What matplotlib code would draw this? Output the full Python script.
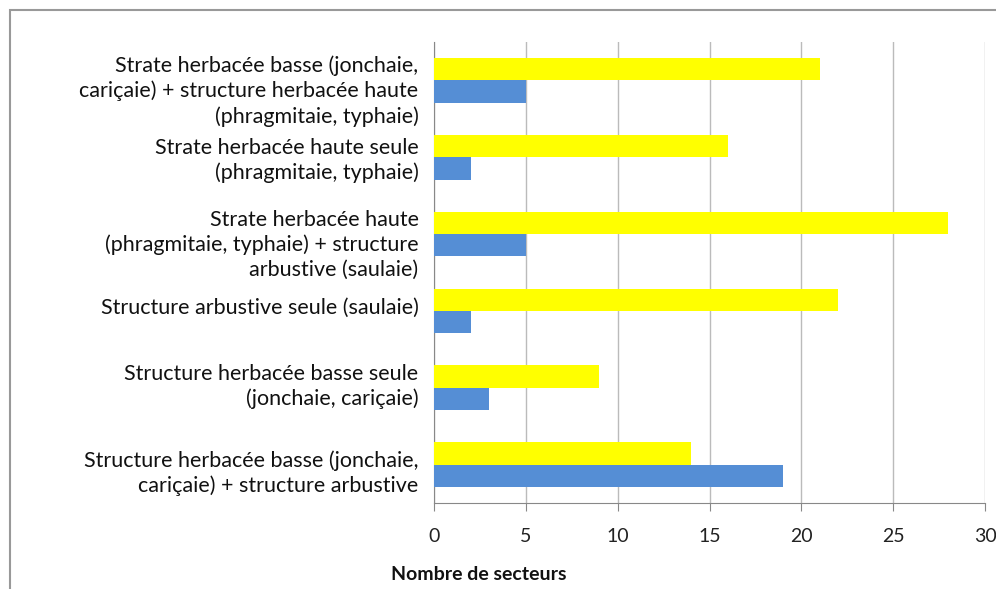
import numpy as np
import matplotlib.pyplot as plt
from matplotlib.patches import Rectangle

# Categories, top to bottom
categories = [
    "Strate herbacée basse (jonchaie,\ncariçaie) + structure herbacée haute\n(phragmitaie, typhaie)",
    "Strate herbacée haute seule\n(phragmitaie, typhaie)",
    "Strate herbacée haute\n(phragmitaie, typhaie) + structure\narbustive (saulaie)",
    "Structure arbustive seule (saulaie)",
    "Structure herbacée basse seule\n(jonchaie, cariçaie)",
    "Structure herbacée basse (jonchaie,\ncariçaie) + structure arbustive",
]
yellow_vals = [21, 16, 28, 22, 9, 14]
blue_vals = [5, 2, 5, 2, 3, 19]
xticks = [0, 5, 10, 15, 20, 25, 30]

plt.rcParams['font.family'] = ['Lato', 'DejaVu Sans']

fig = plt.figure(figsize=(9.96, 5.89), dpi=100)
ax = fig.add_axes([434 / 996, 1 - 503 / 589, (985 - 434) / 996, (503 - 42) / 589])

y = np.arange(len(categories))
h = 0.29
ax.barh(y - h / 2, yellow_vals, height=h, color='#FFFF00', zorder=3)
ax.barh(y + h / 2, blue_vals, height=h, color='#558ED5', zorder=3)

ax.set_ylim(len(categories) - 0.5, -0.5)
ax.set_xlim(0, 30)
ax.set_xticks(xticks)
ax.set_xticklabels([str(t) for t in xticks], fontsize=14, color='#222222')
ax.set_yticks(y)
ax.set_yticklabels([])
ax.tick_params(axis='y', length=0)
ax.tick_params(axis='x', length=6, color='#888888', direction='out', pad=12)
ax.grid(axis='x', color='#BBBBBB', linewidth=1, zorder=0)

# category labels, slightly shifted like the original layout
label_shift = [0.14, 0.04, 0.14, -0.04, -0.02, 0.11]
for yi, lab, dy in zip(y, categories, label_shift):
    ax.text(-0.028, yi + dy, lab, transform=ax.get_yaxis_transform(),
            ha='right', va='center', multialignment='right',
            fontsize=15.5, color='#111111', linespacing=1.28)

for side in ['top', 'right']:
    ax.spines[side].set_visible(False)
for side in ['left', 'bottom']:
    ax.spines[side].set_color('#888888')

fig.text(479 / 996, 1 - 575 / 589, "Nombre de secteurs", ha='center', va='center',
         fontsize=14, fontweight='bold', color='#111111')

# outer frame
fig.patches.append(Rectangle((10 / 996, -0.01), 1.0, 1 - 10 / 589 + 0.01,
                             transform=fig.transFigure, fill=False,
                             edgecolor='#999999', linewidth=1.5))

fig.savefig('out.png', dpi=100)
